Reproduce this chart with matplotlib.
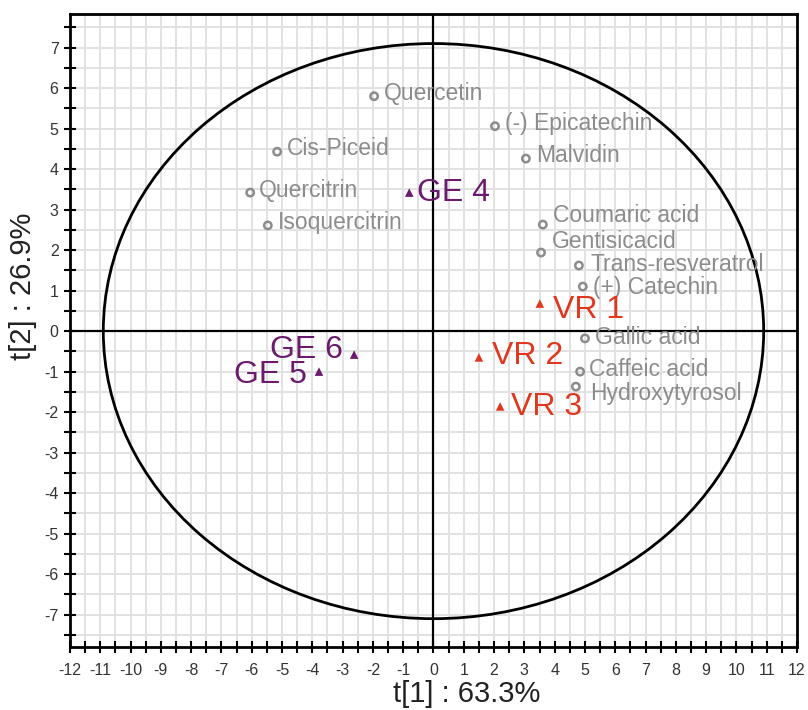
import numpy as np
import matplotlib.pyplot as plt
from matplotlib.patches import Ellipse
from matplotlib.ticker import MultipleLocator

plt.rcParams['font.family'] = ['Liberation Sans', 'DejaVu Sans']
plt.rcParams['axes.unicode_minus'] = False

# loadings (compounds)
compounds = ['Quercetin', '(-) Epicatechin', 'Malvidin', 'Cis-Piceid', 'Quercitrin',
             'Isoquercitrin', 'Coumaric acid', 'Gentisicacid', 'Trans-resveratrol',
             '(+) Catechin', 'Gallic acid', 'Caffeic acid', 'Hydroxytyrosol']
comp_t1 = [-1.96, 2.03, 3.05, -5.16, -6.05, -5.47, 3.61, 3.55, 4.80, 4.93, 5.00, 4.84, 4.70]
comp_t2 = [5.80, 5.06, 4.26, 4.43, 3.42, 2.61, 2.63, 1.94, 1.62, 1.10, -0.18, -1.00, -1.37]

# scores (samples)
samples = ['GE 4', 'GE 5', 'GE 6', 'VR 1', 'VR 2', 'VR 3']
samp_t1 = [-0.80, -3.78, -2.62, 3.51, 1.50, 2.20]
samp_t2 = [3.42, -1.00, -0.58, 0.68, -0.65, -1.86]

# Hotelling T2 ellipse radii
ell_a, ell_b = 10.9, 7.1

gray = '#8c8c8c'
purple = '#6a1b6e'
red = '#e0371d'

# label offsets in pixels
comp_off = {
    'Quercetin': (10, 3), '(-) Epicatechin': (10, 3), 'Malvidin': (10, 3),
    'Cis-Piceid': (10, 3), 'Quercitrin': (9, 2), 'Isoquercitrin': (10, 3),
    'Coumaric acid': (10, 9), 'Gentisicacid': (11, 11), 'Trans-resveratrol': (12, 1),
    '(+) Catechin': (10, -1), 'Gallic acid': (10, 1), 'Caffeic acid': (9, 2),
    'Hydroxytyrosol': (14, -7),
}
samp_off = {
    'GE 4': (8, 0, 'left'), 'GE 5': (-12, -3, 'right'), 'GE 6': (-11, 5, 'right'),
    'VR 1': (13, -6, 'left'), 'VR 2': (13, 1, 'left'), 'VR 3': (11, -1, 'left'),
}

fig = plt.figure(figsize=(8.08, 7.10), dpi=100)
ax = fig.add_axes([0.0866, 0.0887, 0.8998, 0.8916])

ax.set_xlim(-12, 12)
ax.set_ylim(-7.8, 7.83)

ax.xaxis.set_major_locator(MultipleLocator(1))
ax.xaxis.set_minor_locator(MultipleLocator(0.5))
ax.yaxis.set_major_locator(MultipleLocator(1))
ax.yaxis.set_minor_locator(MultipleLocator(0.5))

ax.grid(which='both', color='#e2e2e2', linewidth=1.4, zorder=0)
ax.set_axisbelow(True)

ax.tick_params(which='both', direction='inout', length=8.5, width=1.5, color='black',
               labelsize=11.5, labelcolor='#333333')
ax.tick_params(axis='x', pad=7)
ax.tick_params(axis='y', pad=4)
for s in ax.spines.values():
    s.set_linewidth(2)

ax.axhline(0, color='black', lw=1.6, zorder=1)
ax.axvline(0, color='black', lw=1.6, zorder=1)

ax.add_patch(Ellipse((0, 0), 2 * ell_a, 2 * ell_b, fill=False, edgecolor='black',
                     lw=2, zorder=2))

ax.scatter(comp_t1, comp_t2, s=28, facecolors='none', edgecolors=gray,
           linewidths=1.8, zorder=3)
for name, x, y in zip(compounds, comp_t1, comp_t2):
    dx, dy = comp_off[name]
    ax.annotate(name, (x, y), xytext=(dx, dy), textcoords='offset pixels',
                ha='left', va='center', fontsize=16.5, color=gray, zorder=4)

samp_col = [purple if s.startswith('GE') else red for s in samples]
ax.scatter(samp_t1, samp_t2, s=38, marker='^', c=samp_col, linewidths=0, zorder=3)
for name, x, y, c in zip(samples, samp_t1, samp_t2, samp_col):
    dx, dy, ha = samp_off[name]
    ax.annotate(name, (x, y), xytext=(dx, dy), textcoords='offset pixels',
                ha=ha, va='center', fontsize=23, color=c, zorder=4)

ax.set_xlabel('t[1] : 63.3%', fontsize=21, color='#222222')
ax.set_ylabel('t[2] : 26.9%', fontsize=21, color='#222222')
ax.xaxis.set_label_coords(0.546, -0.052)
ax.yaxis.set_label_coords(-0.045, 0.57)

fig.savefig('out.png', dpi=100)
